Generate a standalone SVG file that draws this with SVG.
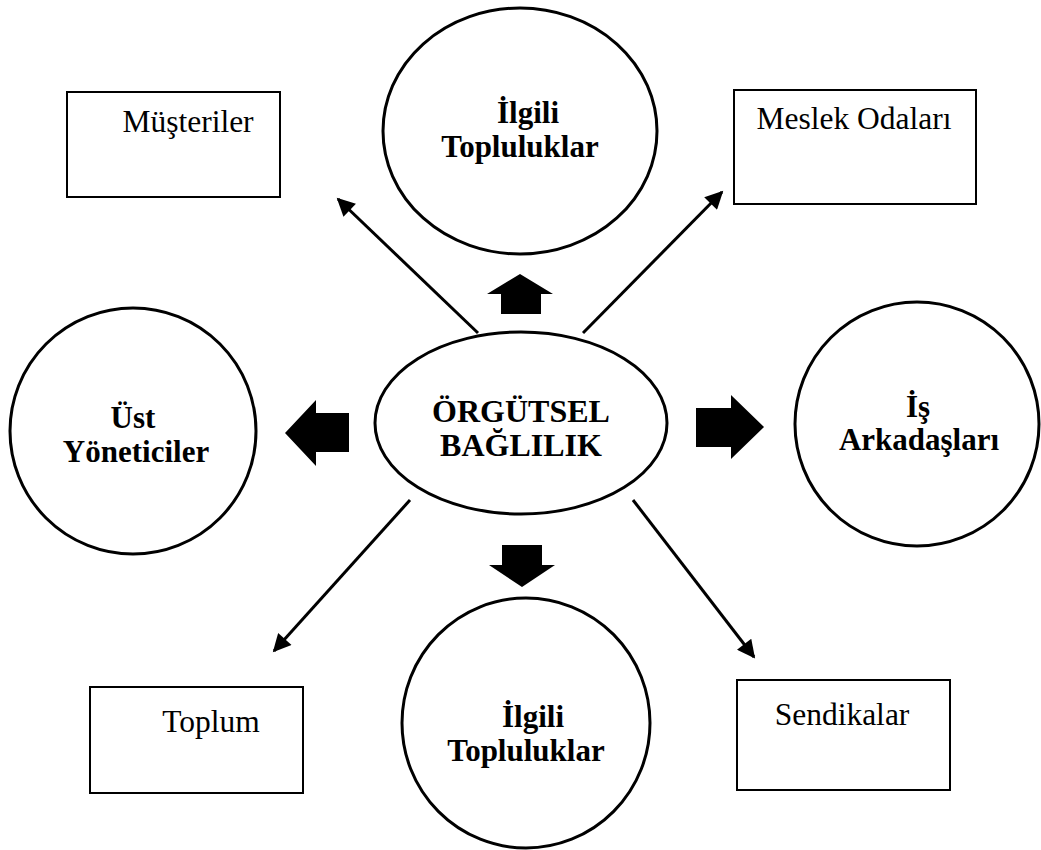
<svg xmlns="http://www.w3.org/2000/svg" width="1041" height="850" viewBox="0 0 1041 850">
  <style>
    .ring { fill: #fff; stroke: #000; stroke-width: 3; }
    .box { fill: #fff; stroke: #000; stroke-width: 2; }
    .bold { font-family: "Liberation Serif", "Times New Roman", serif; font-weight: bold; font-size: 31px; fill: #000; text-anchor: middle; }
    .plain { font-family: "Liberation Serif", "Times New Roman", serif; font-size: 31.5px; fill: #000; text-anchor: middle; }
    .link { stroke: #000; stroke-width: 3; fill: none; marker-end: url(#head); }
    .block { fill: #000; }
  </style>
  <defs>
    <marker id="head" viewBox="0 0 10 10" refX="9" refY="5" markerWidth="7" markerHeight="6" markerUnits="strokeWidth" orient="auto">
      <path d="M0,0 L10,5 L0,10 Z" fill="#000"/>
    </marker>
  </defs>

  <rect width="1041" height="850" fill="#fff"/>

  <!-- thin arrows and block arrows leaving the centre -->
  <g id="connectors">
    <line class="link" x1="478" y1="333" x2="338" y2="199"/>
    <line class="link" x1="583" y1="333" x2="722" y2="192"/>
    <line class="link" x1="410" y1="500" x2="274" y2="651"/>
    <line class="link" x1="633" y1="500" x2="754" y2="657"/>
    <polygon class="block" points="520,274 553,294 541,294 541,314 501,314 501,294 487,294"/>
    <polygon class="block" points="285,433 316,400 316,413 349,413 349,452 316,452 316,466"/>
    <polygon class="block" points="764,427 731,395 731,408 696,408 696,447 731,447 731,459"/>
    <polygon class="block" points="522,587 555,565 542,565 542,545 502,545 502,565 489,565"/>
  </g>

  <g id="merkez">
    <ellipse class="ring" cx="521" cy="423" rx="146" ry="91"/>
    <text class="bold" style="font-size:32px" x="521" y="422">ÖRGÜTSEL</text>
    <text class="bold" style="font-size:32px" x="521" y="456">BAĞLILIK</text>
  </g>

  <g id="ilgili-ust">
    <ellipse class="ring" cx="520" cy="131" rx="137" ry="123"/>
    <text class="bold" x="528" y="123">İlgili</text>
    <text class="bold" x="520" y="157">Topluluklar</text>
  </g>

  <g id="ust-yoneticiler">
    <circle class="ring" cx="133" cy="431" r="123"/>
    <text class="bold" x="133" y="428">Üst</text>
    <text class="bold" x="136" y="462">Yöneticiler</text>
  </g>

  <g id="is-arkadaslari">
    <circle class="ring" cx="917" cy="424" r="122"/>
    <text class="bold" x="918" y="417">İş</text>
    <text class="bold" x="919" y="450">Arkadaşları</text>
  </g>

  <g id="ilgili-alt">
    <ellipse class="ring" cx="526" cy="723" rx="124" ry="125"/>
    <text class="bold" x="533" y="727">İlgili</text>
    <text class="bold" x="526" y="761">Topluluklar</text>
  </g>

  <g id="musteriler">
    <rect class="box" x="67" y="92" width="213" height="105"/>
    <text class="plain" x="188" y="132">Müşteriler</text>
  </g>

  <g id="meslek-odalari">
    <rect class="box" x="734" y="90" width="242" height="114"/>
    <text class="plain" x="854" y="129">Meslek Odaları</text>
  </g>

  <g id="toplum">
    <rect class="box" x="90" y="687" width="213" height="106"/>
    <text class="plain" x="211" y="732">Toplum</text>
  </g>

  <g id="sendikalar">
    <rect class="box" x="737" y="680" width="213" height="110"/>
    <text class="plain" x="842" y="725">Sendikalar</text>
  </g>
</svg>
